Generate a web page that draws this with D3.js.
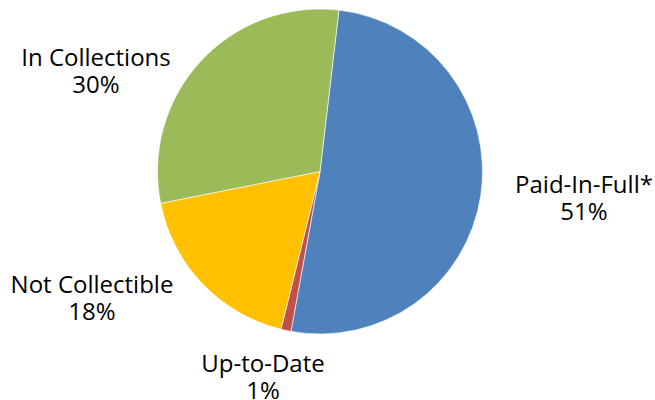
<!DOCTYPE html>
<html><head><meta charset="utf-8">
<script src="https://cdn.jsdelivr.net/npm/d3@7"></script>
<style>body{margin:0;background:#fff}svg{display:block}</style>
</head><body>
<script>
const categories = ["Paid-In-Full*", "Up-to-Date", "Not Collectible", "In Collections"];
const values = [51, 1, 18, 30];
const colors = ["#4F81BD", "#C0504D", "#FFC000", "#9BBB59"];
const labelPos = [[584, 193], [263, 372], [92, 293], [96, 66]];

const W = 655, H = 400;
const cx = 320, cy = 171.5, R = 162.5;
const svg = d3.select("body").append("svg").attr("width", W).attr("height", H);
const data = categories.map((c, i) => ({cat: c, value: values[i], color: colors[i], pos: labelPos[i]}));
const offset = 6.7 * Math.PI / 180;
const pie = d3.pie().value(d => d.value).sort(null).startAngle(offset).endAngle(offset + 2 * Math.PI);
const arc = d3.arc().innerRadius(0).outerRadius(R);
const g = svg.append("g").attr("transform", `translate(${cx},${cy})`);
g.selectAll("path").data(pie(data)).join("path")
  .attr("d", arc).attr("fill", d => d.data.color)
  .attr("stroke", "#fff").attr("stroke-width", 0.6);

const lbl = svg.append("g").attr("font-family", "'Open Sans', sans-serif").attr("font-size", 24).attr("fill", "#000");
data.forEach(d => {
  const t = lbl.append("text").attr("text-anchor", "middle");
  t.append("tspan").attr("x", d.pos[0]).attr("y", d.pos[1]).text(d.cat);
  t.append("tspan").attr("x", d.pos[0]).attr("y", d.pos[1] + 27).text(d.value + "%");
});
</script>
</body></html>
